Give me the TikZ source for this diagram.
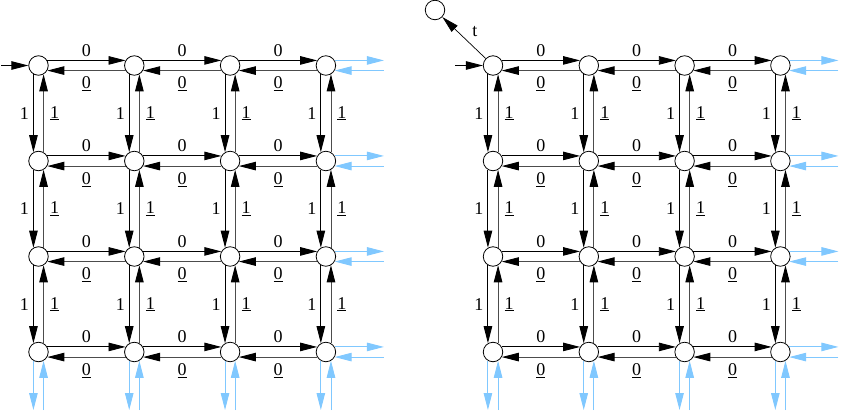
\documentclass[tikz,border=0pt]{standalone}
\usepackage{fontspec}
\setmainfont{Liberation Serif}
\usetikzlibrary{arrows.meta,calc}
\definecolor{lblue}{RGB}{128,200,255}
\newcommand{\labfont}{\fontsize{18}{21}\selectfont}
\begin{document}
\begin{tikzpicture}[x=1pt,y=-1pt,
  st/.style={circle,draw,line width=0.8pt,minimum size=19.5pt,inner sep=0pt,fill=white},
  fw/.style={line width=0.9pt,-{Triangle[length=17pt,width=8.5pt]}},
  bk/.style={line width=0.9pt,draw=black!70,-{Triangle[length=17pt,width=8.5pt,color=black]}},
  bl/.style={line width=0.9pt,draw=lblue,-{Triangle[length=17pt,width=8.5pt,color=lblue]}},
  lab/.style={font=\labfont,inner sep=2pt}]
\useasboundingbox (0,0) rectangle (843,420);
\foreach \g/\ox in {L/38.5,R/493}{
  \foreach \i in {0,1,2,3}{
    \foreach \j in {0,1,2,3}{
      \node[st] (\g-\i-\j) at ({\ox+\i*95.8},{65.5+\j*95.5}) {};
    }
  }
  % horizontal
  \foreach \i [evaluate=\i as \k using int(\i+1)] in {0,1,2}{
    \foreach \j in {0,1,2,3}{
      \draw[fw] (\g-\i-\j.30) -- node[lab,above,inner sep=3.5pt]{0} (\g-\k-\j.150);
      \draw[bk] (\g-\k-\j.210) -- node[lab,below,inner sep=6pt]{\underline{0}} (\g-\i-\j.330);
    }
  }
  % vertical
  \foreach \j [evaluate=\j as \k using int(\j+1)] in {0,1,2}{
    \foreach \i in {0,1,2,3}{
      \draw[fw] (\g-\i-\j.240) -- node[lab,left,inner sep=4pt]{1} (\g-\i-\k.120);
      \draw[bk] (\g-\i-\k.60) -- node[lab,right,inner sep=6pt]{\underline{1}} (\g-\i-\j.300);
    }
  }
  % blue right
  \foreach \j in {0,1,2,3}{
    \coordinate (\g-ro-\j) at ($(\g-3-\j.center)+(58,0)$);
    \draw[bl] (\g-3-\j.30) -- (\g-3-\j.30 -| \g-ro-\j);
    \draw[bl] (\g-3-\j.330 -| \g-ro-\j) -- (\g-3-\j.330);
  }
  % blue bottom
  \foreach \i in {0,1,2,3}{
    \coordinate (\g-bo-\i) at ($(\g-\i-3.center)+(0,58)$);
    \draw[bl] (\g-\i-3.240) -- (\g-\i-3.240 |- \g-bo-\i);
    \draw[bl] (\g-\i-3.300 |- \g-bo-\i) -- (\g-\i-3.300);
  }
}
\coordinate (inL) at (1,65.5);
\coordinate (inR) at (455,65.5);
\draw[fw] (inL) -- (L-0-0);
\draw[fw] (inR) -- (R-0-0);
\node[st] (tt) at (435,10) {};
\draw[line width=0.7pt,-{Triangle[length=17pt,width=8.5pt]}] (R-0-0) -- node[lab,right=12pt,pos=0.64]{t} (tt);
\end{tikzpicture}
\end{document}
